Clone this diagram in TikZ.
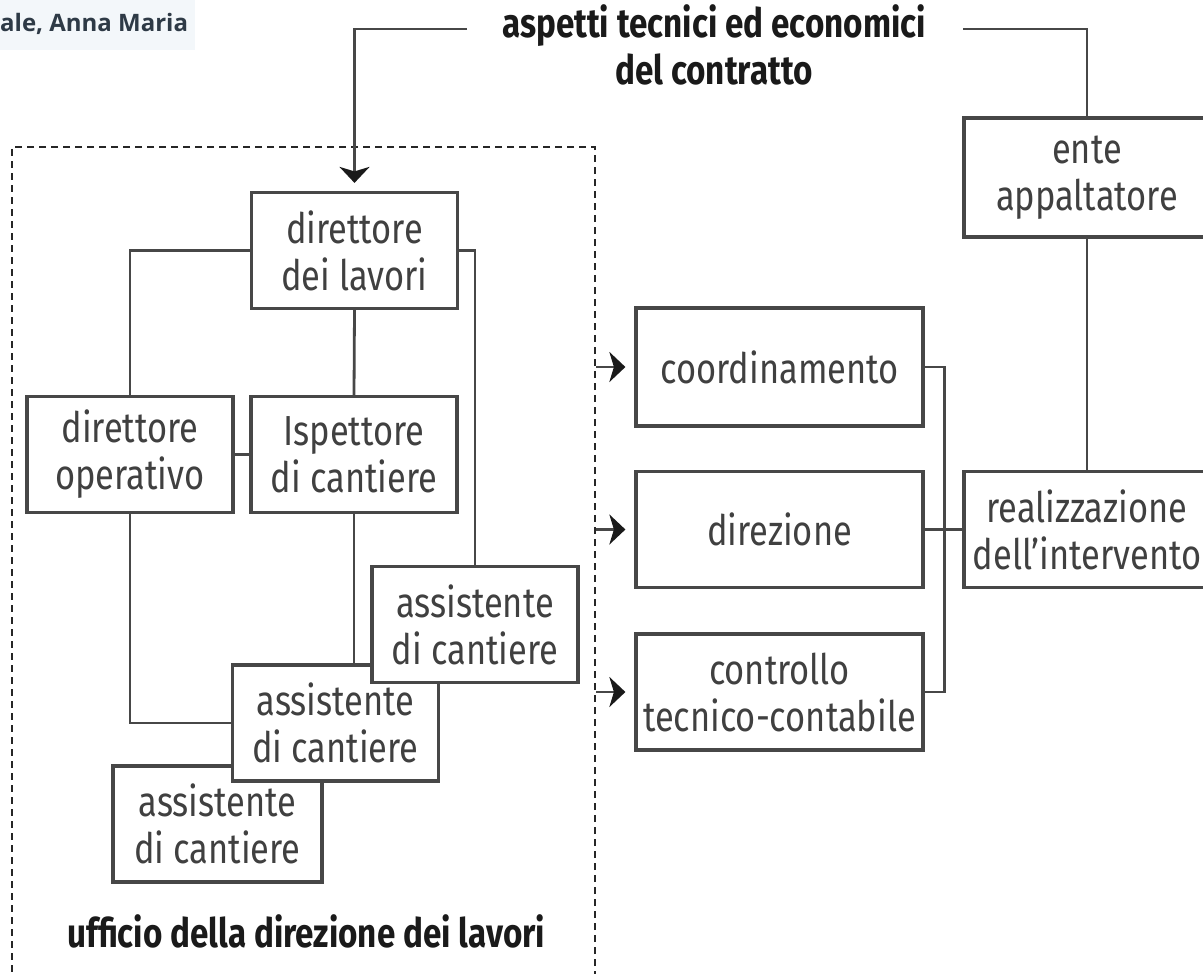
\documentclass[tikz,border=0pt]{standalone}
\usepackage{fontspec}
\setmainfont{Fira Sans}[FakeStretch=0.82]
\newfontfamily\webfont{Open Sans}
\usetikzlibrary{calc,arrows.meta}
\definecolor{boxline}{HTML}{474747}
\definecolor{boxtext}{HTML}{404040}
\definecolor{headtext}{HTML}{1A1A1A}
\definecolor{webbg}{HTML}{F3F7FA}
\definecolor{webtext}{HTML}{2E3A46}

\begin{document}
\begin{tikzpicture}[x=1pt,y=-1pt,
  box/.style={draw=boxline,fill=white,rectangle,line width=3.2pt,inner sep=0pt,minimum width=206pt,minimum height=116pt,align=center,text=boxtext,font=\fontsize{42}{47}\selectfont},
  link/.style={draw=boxline,line width=2.8pt},
  arr/.style={link,-{Stealth[length=16pt,width=30pt,inset=4.5pt,color=headtext]}},
  head/.style={text=headtext,align=center,inner sep=0pt,font=\fontsize{40.5}{47}\selectfont\bfseries}]
\useasboundingbox (0,0) rectangle (1203,974);

\fill[webbg] (0,0) rectangle (195,50);
\draw node [anchor=base west,inner sep=0pt,text=webtext,font=\webfont\fontsize{24}{28}\selectfont\bfseries] (web) at (0,32) {ale, Anna Maria};

\draw node [draw=black!85,line width=2.3pt,dash pattern=on 7pt off 5pt,minimum width=583pt,minimum height=860pt,inner sep=0pt] (ufficio) at (303.5,577) {};
\draw node [head,anchor=base west] (uff) at (67,947) {ufficio della direzione dei lavori};
\draw node [head] (asp) at (714,45) {aspetti tecnici ed economici\\del contratto};

\draw node [box] (dl) at (354.5,250.5) {direttore\\dei lavori};
\draw node [box] (dop) at (130,454.5) {direttore\\operativo};
\draw node [box] (isp) at (354,454.5) {Ispettore\\di cantiere};
\draw node [box,minimum width=209pt] (as3) at (217.5,824) {assistente\\di cantiere};
\draw node [box] (as2) at (335.5,723) {assistente\\di cantiere};
\draw node [box] (as1) at (475,624.5) {assistente\\di cantiere};

\draw node [box,minimum width=287pt,minimum height=118pt] (coo) at (779.5,367) {coordinamento};
\draw node [box,minimum width=287pt] (dir) at (779.5,529.5) {direzione};
\draw node [box,minimum width=287pt] (ctr) at (779.5,692) {controllo\\tecnico-contabile};
\draw node [box,minimum width=246pt,minimum height=119pt] (ente) at (1087,177.5) {ente\\appaltatore};
\draw node [box,minimum width=246pt] (real) at (1087,529.5) {realizzazione\\dell’intervento};

\coordinate (tl) at (467,29);
\coordinate (tr) at (963,29);
\draw [arr,shorten >=8pt] (tl) -| (dl.north);
\draw [link] (tr) -| (ente.north);
\draw [link] (ente.south) -- (real.north);

\draw [link] (dl.west) -| (dop.north);
\draw [link] (dl.east) -| (as1.north);
\draw [link] (dl.south) -- (isp.north);
\draw [link] (dop.east) -- (isp.west);
\draw [link] (dop.south) |- (as2.west);
\draw [link] (isp.south) -- (isp.south |- as2.north);

\coordinate (jn) at ($(dir.east)+(20,0)$);
\draw [link] (coo.east) -| (jn) |- (ctr.east);
\draw [link] (dir.east) -- (real.west);
\foreach \b in {coo,dir,ctr}
  \draw [arr,shorten >=9pt] (ufficio.east |- \b.west) -- (\b.west);

\end{tikzpicture}
\end{document}
